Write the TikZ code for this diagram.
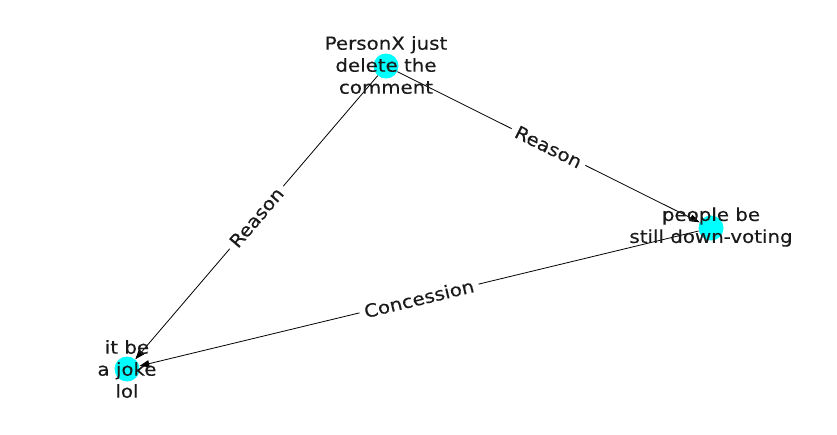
\documentclass[tikz,border=0pt]{standalone}
\usepackage{fontspec}
\setmainfont{DejaVu Sans}[FakeStretch=1.1,FakeBold=0.3]
\usetikzlibrary{arrows.meta}
\definecolor{nodecyan}{RGB}{0,255,255}
\definecolor{txt}{RGB}{26,26,26}
\begin{document}
\begin{tikzpicture}[x=1pt,y=-1pt,
  vertex/.style={circle,fill=nodecyan,minimum size=25pt,inner sep=0pt},
  vlabel/.style={align=center,text=txt,font=\fontsize{18}{22}\selectfont,inner sep=0pt},
  edgeline/.style={draw=black,line width=0.8pt,-{Triangle[length=10pt,width=7pt]}},
  elabel/.style={fill=white,text=txt,font=\fontsize{18}{22}\selectfont,inner xsep=5pt,inner ysep=3pt,sloped}]
\useasboundingbox (0,0) rectangle (837,434);
\node[vertex] (a) at (386,66) {};
\node[vertex] (b) at (711,228) {};
\node[vertex] (c) at (127,369) {};
\draw[edgeline] (a) -- node[elabel] (l1) {Reason} (b);
\draw[edgeline] (a) -- node[elabel] (l2) {Reason} (c);
\draw[edgeline] (b) -- node[elabel] (l3) {Concession} (c);
\node[vlabel] (ta) at (386,65) {PersonX just\\delete the\\comment};
\node[vlabel] (tb) at (711,227) {people be\\still down-voting};
\node[vlabel] (tc) at (127,369) {it be\\a joke\\lol};
\end{tikzpicture}
\end{document}
